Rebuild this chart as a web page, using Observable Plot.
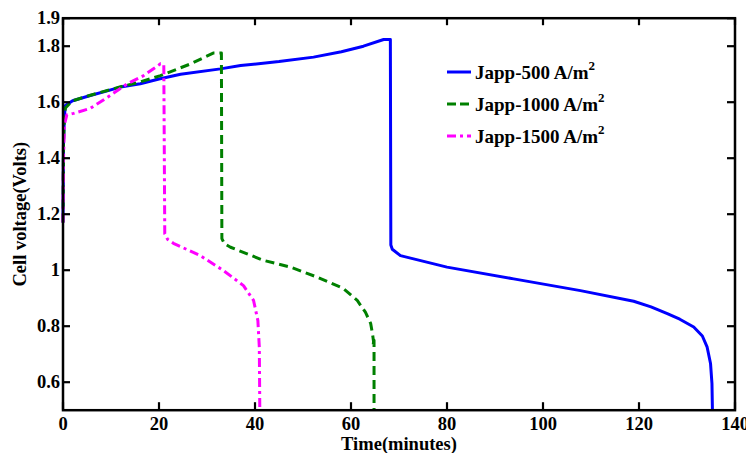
<!DOCTYPE html>
<html>
<head>
<meta charset="utf-8">
<script src="https://cdn.jsdelivr.net/npm/d3@7"></script>
<script src="https://cdn.jsdelivr.net/npm/@observablehq/plot@0.6"></script>
<style>
  html, body { margin: 0; padding: 0; background: #fff; }
  #wrap { position: relative; width: 746px; height: 453px; }
  #legend { position: absolute; left: 446px; top: 56px; font-family: "Liberation Serif", serif; font-weight: bold; font-size: 19px; color: #000; }
  .row { display: flex; align-items: center; height: 32px; }
  .row svg { width: 26px; height: 10px; margin-right: 3px; }
  sup { font-size: 13px; position: relative; top: -2px; }
</style>
</head>
<body>
<div id="wrap"><div id="chart"></div>
<div id="legend"></div></div>
<script>
// Japp-500 A/m^2
const t500 = [0, 0.1, 0.3, 0.5, 2, 5.7, 12, 16.1, 20, 24.5, 32.8, 37, 45, 52.2, 58, 62.6, 66.8, 68.2, 68.3, 68.6, 70.3, 80, 93.9, 107.8, 118.9, 122.5, 125.9, 128.5, 131.4, 133.2, 134.2, 134.9, 135.2, 135.3];
const v500 = [1.17, 1.45, 1.55, 1.588, 1.605, 1.624, 1.654, 1.666, 1.683, 1.70, 1.719, 1.731, 1.745, 1.761, 1.78, 1.80, 1.824, 1.824, 1.09, 1.075, 1.052, 1.011, 0.969, 0.927, 0.889, 0.869, 0.845, 0.825, 0.797, 0.765, 0.725, 0.667, 0.595, 0.5];
// Japp-1000 A/m^2
const t1000 = [0, 0.1, 0.3, 0.5, 2, 5.7, 12, 16, 20.3, 26.6, 31.4, 33, 33.1, 33.6, 34.9, 41.8, 47.4, 53, 58.4, 61.3, 63, 64.1, 64.5, 64.7, 64.6, 64.8, 64.8, 64.8];
const v1000 = [1.17, 1.45, 1.55, 1.58, 1.605, 1.625, 1.655, 1.672, 1.695, 1.737, 1.776, 1.776, 1.113, 1.095, 1.082, 1.035, 1.011, 0.975, 0.935, 0.892, 0.85, 0.81, 0.77, 0.745, 0.73, 0.75, 0.70, 0.5];
// Japp-1500 A/m^2
const t1500 = [0, 0.1, 0.3, 0.8, 2.2, 5.7, 9.3, 13.4, 16.8, 20.3, 21, 21.2, 21.8, 23, 28.6, 33.4, 37.6, 39.7, 40.6, 40.9, 41];
const v1500 = [1.17, 1.4, 1.52, 1.555, 1.56, 1.578, 1.618, 1.666, 1.695, 1.737, 1.735, 1.13, 1.11, 1.096, 1.052, 0.999, 0.945, 0.892, 0.82, 0.725, 0.5];

const seriesNames = ["Japp-500 A/m", "Japp-1000 A/m", "Japp-1500 A/m"];
const seriesColors = ["#0000ff", "#008000", "#ff00ff"];
const seriesDash = [null, "9,5", "9,4,3,4"];
const xTicks = [0, 20, 40, 60, 80, 100, 120, 140];
const yTicks = [0.6, 0.8, 1, 1.2, 1.4, 1.6, 1.8, 1.9];

const toRows = (ts, vs) => ts.map((t, i) => ({t, v: vs[i]}));
const data = [toRows(t500, v500), toRows(t1000, v1000), toRows(t1500, v1500)];

const W = 746, H = 453, mL = 62.5, mR = 11.5, mT = 17.7, mB = 43.3;
const plotW = W - mL - mR, plotH = H - mT - mB, tick = 7.5;
const plot = Plot.plot({
  width: W, height: H, marginLeft: mL, marginRight: mR, marginTop: mT, marginBottom: mB,
  style: {fontFamily: "Liberation Serif", fontWeight: "bold", fontSize: "18.5px", color: "#000", background: "#fff", overflow: "visible"},
  x: {domain: [0, 140]}, y: {domain: [0.5, 1.9]},
  marks: [
    ...data.map((d, i) => Plot.line(d, {x: "t", y: "v", stroke: seriesColors[i], strokeWidth: 3, strokeDasharray: seriesDash[i], strokeLinejoin: "round", strokeLinecap: "butt"})),
    Plot.tickX(xTicks, {x: d => d, stroke: "#000", strokeWidth: 2.2, insetTop: plotH - tick}),
    Plot.tickX(xTicks, {x: d => d, stroke: "#000", strokeWidth: 2.2, insetBottom: plotH - tick}),
    Plot.tickY(yTicks, {y: d => d, stroke: "#000", strokeWidth: 2.2, insetRight: plotW - tick}),
    Plot.tickY(yTicks, {y: d => d, stroke: "#000", strokeWidth: 2.2, insetLeft: plotW - tick}),
    Plot.axisX(xTicks, {anchor: "bottom", tickSize: 0, tickPadding: 7, label: "Time(minutes)", labelAnchor: "center", labelOffset: 40, labelArrow: "none"}),
    Plot.axisY(yTicks, {anchor: "left", tickSize: 0, tickPadding: 3, tickFormat: d => String(d), label: "Cell voltage(Volts)", labelAnchor: "center", labelOffset: 50, labelArrow: "none"}),
    Plot.frame({stroke: "#000", strokeWidth: 2.5})
  ]
});
document.getElementById("chart").appendChild(plot);

const legend = document.getElementById("legend");
seriesNames.forEach((name, i) => {
  const row = document.createElement("div");
  row.className = "row";
  row.innerHTML = `<svg viewBox="0 0 26 10"><line x1="1" y1="5" x2="25" y2="5" stroke="${seriesColors[i]}" stroke-width="3" ${seriesDash[i] ? `stroke-dasharray="${i === 1 ? "9,4" : "9,4,3,4"}"` : ""}/></svg><span>${name}<sup>2</sup></span>`;
  legend.appendChild(row);
});
</script>
</body>
</html>
